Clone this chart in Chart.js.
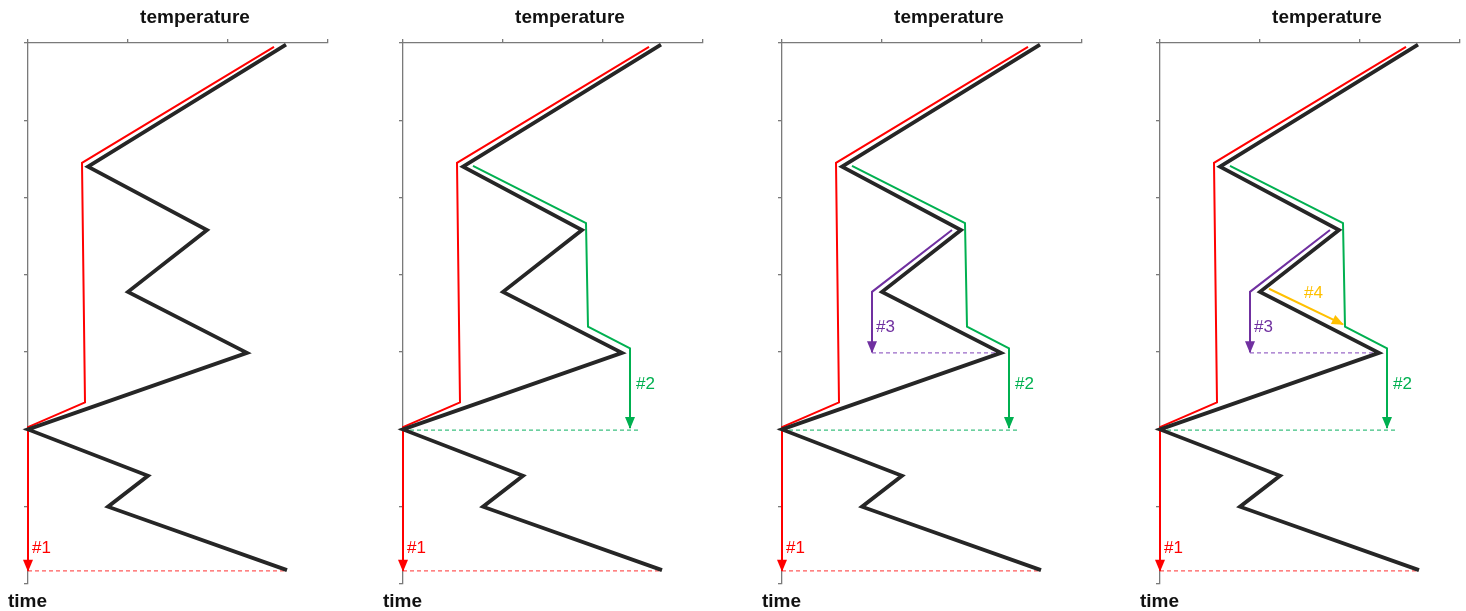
<!DOCTYPE html>
<html>
<head>
<meta charset="utf-8">
<script src="https://cdn.jsdelivr.net/npm/chart.js@4/dist/chart.umd.min.js"></script>
<style>
body { margin: 0; background: #fff; }
#wrap { position: relative; width: 1466px; height: 611px; overflow: hidden; }
#wrap canvas { position: absolute; top: 0; }
</style>
</head>
<body>
<div id="wrap"></div>
<script>
// temperature (x, 0..3) and time (y, 0..7 going down) of each trace
const blackTemp = [2.58, 0.60, 1.79, 1.00, 2.19, 0.00, 1.20, 0.80, 2.59];
const blackTime = [0.02, 1.60, 2.42, 3.22, 4.01, 5.00, 5.60, 6.00, 6.82];

const redTemp = [2.46, 0.54, 0.57, 0.00, 0.00];
const redTime = [0.05, 1.55, 4.65, 4.97, 6.83];
const redDashTemp = [0.00, 2.59];
const redDashTime = [6.83, 6.83];

const greenTemp = [0.70, 1.83, 1.85, 2.27, 2.27];
const greenTime = [1.59, 2.33, 3.67, 3.95, 4.98];
const greenDashTemp = [0.00, 2.37];
const greenDashTime = [5.01, 5.01];

const purpleTemp = [1.70, 0.90, 0.90];
const purpleTime = [2.42, 3.22, 4.00];
const purpleDashTemp = [0.90, 2.19];
const purpleDashTime = [4.01, 4.01];

const orangeTemp = [1.09, 1.83];
const orangeTime = [3.18, 3.64];

// step labels
const stepLabels = ['#1', '#2', '#3', '#4'];
const stepLabelTemp = [0.04, 2.33, 0.94, 1.44];
const stepLabelTime = [6.54, 4.42, 3.68, 3.24];

const tempTicks = [0, 1, 2, 3];
const timeMax = 7;

const panelLefts = [0, 375, 754, 1132];
const stepColors = ['#ff0000', '#00b050', '#7030a0', '#ffc000'];
const dashColors = ['#ff5a5a', '#3cc080', '#9a6ac8'];

function pts(temp, time) {
    return temp.map((t, i) => ({ x: t, y: time[i] }));
}

function trace(temp, time, color, width, extra) {
    return Object.assign({
        data: pts(temp, time),
        borderColor: color,
        backgroundColor: color,
        borderWidth: width,
        pointRadius: 0,
        pointHoverRadius: 0,
        tension: 0,
        fill: false,
        clip: false
    }, extra || {});
}

const arrowPlugin = {
    id: 'arrows',
    afterDatasetsDraw(chart) {
        const ctx = chart.ctx;
        chart.data.datasets.forEach((ds, i) => {
            if (!ds.arrow) return;
            const els = chart.getDatasetMeta(i).data;
            const a = els[els.length - 2], b = els[els.length - 1];
            const ang = Math.atan2(b.y - a.y, b.x - a.x);
            const len = 11, half = 5;
            ctx.save();
            ctx.translate(b.x, b.y);
            ctx.rotate(ang);
            ctx.fillStyle = ds.borderColor;
            ctx.beginPath();
            ctx.moveTo(1, 0);
            ctx.lineTo(-len, -half);
            ctx.lineTo(-len, half);
            ctx.closePath();
            ctx.fill();
            ctx.restore();
        });
    }
};

const textPlugin = {
    id: 'texts',
    afterDraw(chart) {
        const ctx = chart.ctx;
        const xs = chart.scales.x, ys = chart.scales.y;
        ctx.save();
        ctx.fillStyle = '#111';
        ctx.font = 'bold 19px "Liberation Sans", Arial, sans-serif';
        ctx.textAlign = 'center';
        ctx.textBaseline = 'alphabetic';
        ctx.fillText('temperature', xs.left + 167, 23);
        ctx.textAlign = 'left';
        ctx.fillText('time', xs.left - 20, 607);

        ctx.font = '17px "Liberation Sans", Arial, sans-serif';
        ctx.textBaseline = 'middle';
        const n = chart.options.plugins.texts.steps;
        for (let i = 0; i < n; i++) {
            ctx.fillStyle = stepColors[i];
            ctx.fillText(stepLabels[i], xs.getPixelForValue(stepLabelTemp[i]), ys.getPixelForValue(stepLabelTime[i]));
        }
        ctx.restore();
    }
};

function buildDatasets(steps) {
    const ds = [trace(blackTemp, blackTime, '#262626', 3.8)];
    if (steps >= 4) ds.push(trace(orangeTemp, orangeTime, stepColors[3], 2, { arrow: true }));
    if (steps >= 3) ds.push(trace(purpleTemp, purpleTime, stepColors[2], 2, { arrow: true }));
    if (steps >= 2) ds.push(trace(greenTemp, greenTime, stepColors[1], 2, { arrow: true }));
    ds.push(trace(redTemp, redTime, stepColors[0], 2, { arrow: true }));
    if (steps >= 3) ds.push(trace(purpleDashTemp, purpleDashTime, dashColors[2], 1.2, { borderDash: [4, 3] }));
    if (steps >= 2) ds.push(trace(greenDashTemp, greenDashTime, dashColors[1], 1.2, { borderDash: [4, 3] }));
    ds.push(trace(redDashTemp, redDashTime, dashColors[0], 1.2, { borderDash: [4, 3] }));
    return ds;
}

const axisColor = '#7a7a7a';
const wrap = document.getElementById('wrap');

panelLefts.forEach((left, p) => {
    const canvas = document.createElement('canvas');
    canvas.width = 377;
    canvas.height = 611;
    canvas.style.left = left + 'px';
    canvas.style.width = '377px';
    canvas.style.height = '611px';
    wrap.appendChild(canvas);

    new Chart(canvas.getContext('2d'), {
        type: 'line',
        data: { datasets: buildDatasets(p + 1) },
        options: {
            responsive: false,
            animation: false,
            events: [],
            layout: { padding: { left: 0, top: 0, right: 49, bottom: 27 } },
            plugins: {
                legend: { display: false },
                tooltip: { enabled: false },
                texts: { steps: p + 1 }
            },
            scales: {
                x: {
                    type: 'linear',
                    position: 'top',
                    min: tempTicks[0],
                    max: tempTicks[tempTicks.length - 1],
                    afterBuildTicks: s => { s.ticks = tempTicks.map(v => ({ value: v })); },
                    afterFit: s => { s.height = 43; },
                    ticks: { display: false },
                    grid: { drawOnChartArea: false, drawTicks: true, tickLength: 4, color: axisColor, lineWidth: 1.3 },
                    border: { color: axisColor, width: 1.3 }
                },
                y: {
                    type: 'linear',
                    reverse: true,
                    min: 0,
                    max: timeMax,
                    afterFit: s => { s.width = 28; },
                    ticks: { display: false, stepSize: 1 },
                    grid: { drawOnChartArea: false, drawTicks: true, tickLength: 4, color: axisColor, lineWidth: 1.3 },
                    border: { color: axisColor, width: 1.3 }
                }
            }
        },
        plugins: [arrowPlugin, textPlugin]
    });
});
</script>
</body>
</html>
